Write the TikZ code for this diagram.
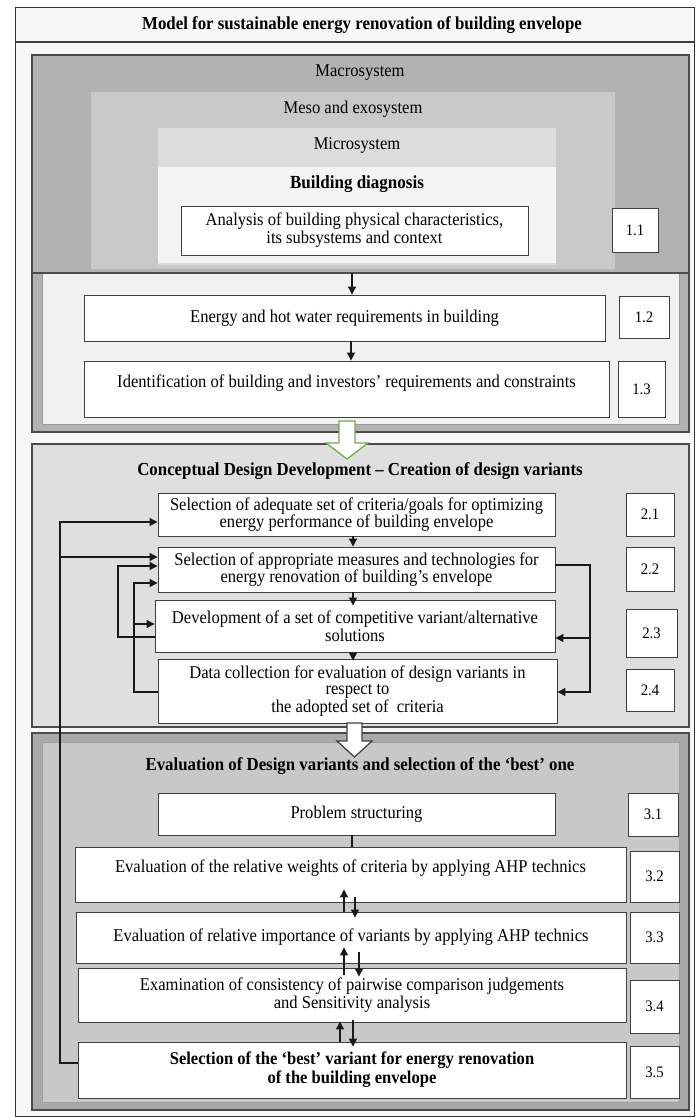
\documentclass[tikz,border=0pt]{standalone}
\usepackage{fontspec}
\setmainfont[FakeStretch=0.92]{Liberation Serif}
\usetikzlibrary{arrows.meta}
\definecolor{cmacro}{HTML}{B2B2B2}
\definecolor{cmeso}{HTML}{C9C9C9}
\definecolor{cmicro}{HTML}{DCDCDC}
\definecolor{cbd}{HTML}{F4F4F4}
\definecolor{cinner}{HTML}{F1F1F1}
\definecolor{csectwo}{HTML}{DFDFDF}
\definecolor{cbandthree}{HTML}{A9A9A9}
\definecolor{cinthree}{HTML}{C8C8C8}
\definecolor{cframe}{HTML}{F7F7F7}
\definecolor{cgreen}{HTML}{70AD47}
\begin{document}
\begin{tikzpicture}[x=1pt,y=-1pt,
  box/.style={draw=black!75, fill=white, line width=0.9pt, align=center, inner sep=2pt, font=\fontsize{18}{17}\selectfont},
  lab/.style={draw=black!75, fill=white, line width=0.9pt, inner sep=1pt, font=\fontsize{16}{17}\selectfont},
  plain/.style={inner sep=0pt, font=\fontsize{18}{19}\selectfont},
  headt/.style={inner sep=0pt, font=\fontsize{18.3}{19}\selectfont\bfseries},
  arr/.style={draw=black!90, line width=1.2pt, -{Triangle[length=8pt,width=8pt]}},
  ln/.style={draw=black!90, line width=1.2pt},
  secbox/.style={draw=black!70, line width=1.5pt},
]
\useasboundingbox (0,0) rectangle (696,1118);
\fill[white] (0,0) rectangle (696,1118);
% outer frame
\draw[fill=cframe, draw=black!80, line width=1pt] (15,8) rectangle (694,1116);
\draw[black!75, line width=1.2pt] (15,42) -- (694,42);
\node[headt] (title) at (362,25) {Model for sustainable energy renovation of building envelope};

% ---------- section 1 ----------
\draw[secbox, fill=cmacro] (32,55) rectangle (689,432);
\draw[fill=cinner, draw=gray!80, line width=0.8pt] (42,273) rectangle (679,424);
\fill[cmeso] (91,92) rectangle (615,269);
\fill[cmicro] (158,128) rectangle (556,265);
\fill[cbd] (158,167) rectangle (556,263);
\draw[black!70, line width=1.2pt] (32,273) -- (689,273);
\node[plain] (macro) at (360,73) {Macrosystem};
\node[plain] (meso) at (353,109) {Meso and exosystem};
\node[plain] (micro) at (357,145) {Microsystem};
\node[headt, font=\fontsize{18.5}{19}\selectfont\bfseries] (bd) at (357,184) {Building diagnosis};

\node[box, minimum width=347pt, minimum height=49pt, font=\fontsize{18}{18}\selectfont] (B11) at (354.5,230.5) {Analysis of building physical characteristics,\\its subsystems and context};
\node[lab, minimum width=46pt, minimum height=44pt] (L11) at (635,230) {1.1};
\node[box, minimum width=521pt, minimum height=46pt] (B12) at (344.5,318) {Energy and hot water requirements in building};
\node[lab, minimum width=50pt, minimum height=42pt] (L12) at (644,317) {1.2};
\node[box, minimum width=525pt, minimum height=56pt, text depth=15pt] (B13) at (346.5,389) {Identification of building and investors’ requirements and constraints};
\node[lab, minimum width=47pt, minimum height=56pt] (L13) at (641.5,389) {1.3};
\coordinate (s1a) at (352,273);
\draw[arr] (s1a) -- (B12.north -| s1a);
\draw[arr] ([xshift=6.5pt]B12.south) -- ([xshift=4.5pt]B13.north);

% ---------- section 2 ----------
\draw[secbox, fill=csectwo] (32,444) rectangle (689,727);
\node[headt] (t2) at (360,471) {Conceptual Design Development – Creation of design variants};
\node[box, minimum width=397pt, minimum height=43pt, font=\fontsize{18}{14.5}\selectfont] (B21) at (356.5,514.5) {Selection of adequate set of criteria/goals for optimizing\\energy performance of building envelope};
\node[lab, minimum width=48pt, minimum height=43pt] (L21) at (650,514.5) {2.1};
\node[box, minimum width=397pt, minimum height=45pt, font=\fontsize{18}{15}\selectfont] (B22) at (356.5,569.5) {Selection of appropriate measures and technologies for\\energy renovation of building’s envelope};
\node[lab, minimum width=48pt, minimum height=44pt] (L22) at (650,569) {2.2};
\node[box, minimum width=400pt, minimum height=52pt, font=\fontsize{18}{18}\selectfont] (B23) at (355,626) {Development of a set of competitive variant/alternative\\solutions};
\node[lab, minimum width=51pt, minimum height=48pt] (L23) at (651.5,633) {2.3};
\node[box, minimum width=399pt, minimum height=64pt, font=\fontsize{18}{16}\selectfont] (B24) at (357.5,691) {Data collection for evaluation of design variants in\\respect to\\the adopted set of~ criteria};
\node[lab, minimum width=48pt, minimum height=42pt] (L24) at (650,690) {2.4};

\draw[arr] ([xshift=-3.5pt]B21.south) -- ([xshift=-3.5pt]B22.north);
\draw[arr] ([xshift=-3.5pt]B22.south) -- ([xshift=-2pt,yshift=-6pt]B23.north);
\draw[arr] ([xshift=-2pt]B23.south) -- ([xshift=-4.5pt,yshift=-2pt]B24.north);

% right feedback
\coordinate (Rx) at (590,0);
\coordinate (r22) at ([yshift=4.5pt]B22.east);
\coordinate (r23) at ([yshift=-12pt]B23.east);
\coordinate (r24) at ([yshift=-1pt]B24.east);
\draw[arr] (r22) -| (Rx |- r24) -- (r24);
\draw[arr] (Rx |- r23) -- (r23);

% left feedbacks inside section 2
\coordinate (Xa) at (118,0);
\coordinate (Xb) at (134,0);
\coordinate (l23) at ([yshift=-11pt]B23.west);
\coordinate (a22b) at ([yshift=3.5pt]B22.west);
\coordinate (l24) at ([yshift=-1pt]B24.west);
\coordinate (a22c) at ([yshift=-13.5pt]B22.west);
\coordinate (a23) at ([yshift=2pt]B23.west);
\draw[arr] (l23) -| (Xa |- a22b) -- (a22b);
\draw[arr] (l24) -| (Xb |- a22c) -- (a22c);
\draw[arr] (Xb |- a23) -- (a23);

% green block arrow 1 -> 2
\draw[cgreen, fill=white, line width=1.3pt, line join=miter]
  (339,421) -- (355,421) -- (355,443) -- (368,443) -- (347,459) -- (326,443) -- (339,443) -- cycle;

% ---------- section 3 ----------
\draw[secbox, fill=cbandthree] (32,733) rectangle (689,1110);
\draw[fill=cinthree, draw=gray!75, line width=0.8pt] (42,742) rectangle (679,1102);
\node[headt] (t3) at (360,766) {Evaluation of Design variants and selection of the ‘best’ one};

\node[box, minimum width=397pt, minimum height=42pt] (B31) at (356.5,814) {Problem structuring};
\node[lab, minimum width=50pt, minimum height=43pt] (L31) at (653,814.5) {3.1};
\node[box, minimum width=551pt, minimum height=55pt, text depth=16pt] (B32) at (350.5,874.5) {Evaluation of the relative weights of criteria by applying AHP technics};
\node[lab, minimum width=49pt, minimum height=51pt] (L32) at (654.5,876.5) {3.2};
\node[box, minimum width=550pt, minimum height=51pt] (B33) at (351,937.5) {Evaluation of relative importance of variants by applying AHP technics};
\node[lab, minimum width=49pt, minimum height=51pt] (L33) at (654.5,937.5) {3.3};
\node[box, minimum width=548pt, minimum height=54pt, font=\fontsize{18}{18}\selectfont] (B34) at (352,995) {Examination of consistency of pairwise comparison judgements\\and Sensitivity analysis};
\node[lab, minimum width=49pt, minimum height=53pt] (L34) at (654.5,1006.5) {3.4};
\node[box, minimum width=548pt, minimum height=56pt, font=\fontsize{18}{19}\selectfont\bfseries] (B35) at (352,1070) {Selection of the ‘best’ variant for energy renovation\\of the building envelope};
\node[lab, minimum width=49pt, minimum height=52pt] (L35) at (654.5,1072) {3.5};

\draw[ln] ([xshift=-4.5pt]B31.south) -- ([xshift=1.5pt]B32.north);
% paired arrows
\draw[arr] ([xshift=-7pt]B33.north) -- ([xshift=-6.5pt,yshift=13pt]B32.south);
\draw[arr] ([xshift=4.5pt,yshift=5pt]B32.south) -- ([xshift=4pt,yshift=-6pt]B33.north);
\draw[arr] ([xshift=-8pt,yshift=-7pt]B34.north) -- ([xshift=-7pt,yshift=16pt]B33.south);
\draw[arr] ([xshift=8pt,yshift=11pt]B33.south) -- ([xshift=7pt,yshift=-9pt]B34.north);
\draw[arr] ([xshift=-12pt]B35.north) -- ([xshift=-12pt,yshift=1pt]B34.south);
\draw[arr] ([xshift=1pt,yshift=2pt]B34.south) -- ([xshift=1pt,yshift=-5pt]B35.north);

% white block arrow 2 -> 3
\draw[black!75, fill=white, line width=1.2pt, line join=miter]
  (347,723) -- (362,723) -- (362,741) -- (372,741) -- (354.5,757) -- (337,741) -- (347,741) -- cycle;

% long feedback from 3.5 to 2.1 / 2.2
\coordinate (Lx) at (60,0);
\coordinate (e35) at ([yshift=7pt]B35.west);
\coordinate (a21) at ([yshift=-7.5pt]B21.west);
\coordinate (a22a) at ([yshift=12.5pt]B22.west);
\draw[arr] (e35) -| (Lx |- a21) -- (a21);
\draw[arr] (Lx |- a22a) -- (a22a);
\end{tikzpicture}
\end{document}
